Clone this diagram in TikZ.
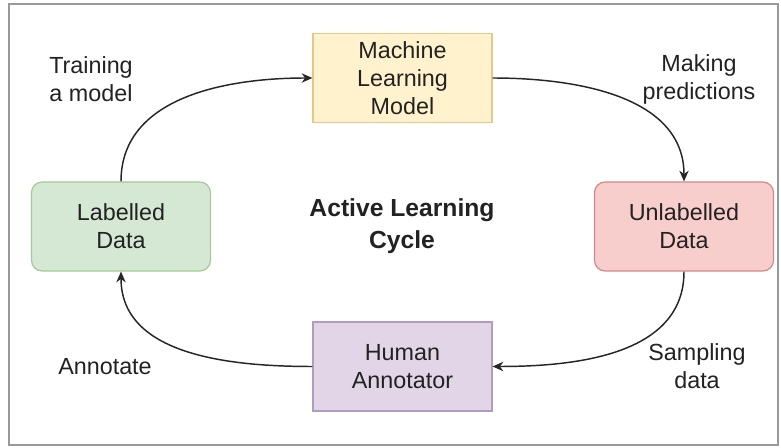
\documentclass[tikz,border=0pt]{standalone}
\usepackage{fontspec}
\setmainfont{Liberation Sans}
\usetikzlibrary{arrows.meta}
\definecolor{mlfill}{HTML}{FFF2CC}
\definecolor{mldraw}{HTML}{E2C987}
\definecolor{gnfill}{HTML}{D5E8D4}
\definecolor{gndraw}{HTML}{A3CA97}
\definecolor{rdfill}{HTML}{F8CECC}
\definecolor{rddraw}{HTML}{D48885}
\definecolor{ppfill}{HTML}{E1D5E7}
\definecolor{ppdraw}{HTML}{B09CBD}
\definecolor{framegray}{HTML}{999999}
\definecolor{txt}{HTML}{222222}
\tikzset{
  boxbase/.style={minimum width=134.25pt, minimum height=66.75pt, inner sep=0pt,
    align=center, text=txt, line width=0.9pt,
    font=\fontsize{17.5}{21}\selectfont},
  sqbox/.style={boxbase},
  rdbox/.style={boxbase, rounded corners=8pt},
  lbl/.style={align=center, text=txt, font=\fontsize{17.5}{21}\selectfont},
  titlelbl/.style={align=center, text=txt, font=\fontsize{18.5}{24}\selectfont\bfseries},
  flow/.style={line width=1.1pt, black!85, -{Stealth[length=8pt,width=7pt,inset=2.5pt]}}
}
\begin{document}
\begin{tikzpicture}[x=0.75pt,y=-0.75pt]
\useasboundingbox (0,0) rectangle (781,448);
\fill[white] (0,0) rectangle (781,448);
\draw[framegray, line width=1.1pt] (9,4) rectangle (778,445);

\node[sqbox, fill=mlfill, draw=mldraw] (ml) at (402.5,78) {Machine\\Learning\\Model};
\node[rdbox, fill=gnfill, draw=gndraw] (lab) at (121,226.5) {Labelled\\Data};
\node[rdbox, fill=rdfill, draw=rddraw] (unl) at (684,226.5) {Unlabelled\\Data};
\node[sqbox, fill=ppfill, draw=ppdraw] (hum) at (402.5,366.5) {Human\\Annotator};

\node[titlelbl] (title) at (402,226) {Active Learning\\Cycle};
\node[lbl] (train) at (91,79) {Training\\a model};
\node[lbl] (pred) at (699,79) {Making\\predictions};
\node[lbl] (annot) at (105,367) {Annotate};
\node[lbl] (samp) at (697,366) {Sampling\\data};

\draw[flow] (lab.north) to[out=90,in=180] (ml.west);
\draw[flow] (ml.east) to[out=0,in=90] (unl.north);
\draw[flow] (unl.south) to[out=-90,in=0] (hum.east);
\draw[flow] (hum.west) to[out=180,in=-90] (lab.south);
\end{tikzpicture}
\end{document}
